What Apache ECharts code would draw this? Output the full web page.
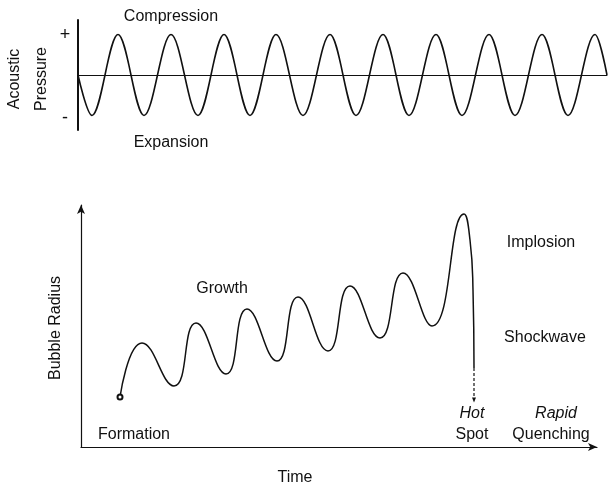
<!DOCTYPE html>
<html>
<head>
<meta charset="utf-8">
<script src="https://cdn.jsdelivr.net/npm/echarts@6/dist/echarts.min.js"></script>
<style>html,body{margin:0;padding:0;background:#fff}#c{width:609px;height:489px}</style>
</head>
<body>
<div id="c"></div>
<script>
// Top panel: acoustic pressure (time offset, pressure extrema)
var pressureTime = [0,14,40,66,93,120,146,172,198,225,252,278,305,331,358,384,411,437,464,490,517,529];
var pressure     = [0,-1,1,-1,1,-1,1,-1,1,-1,1,-1,1,-1,1,-1,1,-1,1,-1,1,0];
// Bottom panel: bubble radius
var radiusTime = [39,61,93,115,145,166,196,217,247,269,299,322,351,383,389,392,393];
var radius     = [50,104,61,124,73,138,86,150,96,161,109,174,121,233,207,157,79];
var tailTime = [393,393];
var tail     = [79,47];

var FONT = '"Liberation Sans", Arial, sans-serif';
var INK = '#111';

function pairs(xs, ys){ return xs.map(function(x,i){ return [x, ys[i]]; }); }

var bubbleData = pairs(radiusTime, radius).map(function(p,i){
  return i === 0 ? {value:p, symbol:'emptyCircle', symbolSize:5} : {value:p, symbol:'none'};
});
var tailData = pairs(tailTime, tail).map(function(p,i){
  return i === 1 ? {value:p, symbol:'triangle', symbolRotate:180, symbolSize:[4,5]} : {value:p, symbol:'none'};
});

function txt(text, x, y, opts){
  opts = opts || {};
  return {
    type:'text', x:x, y:y, rotation: opts.rotation || 0, silent:true,
    style:{ text:text, x:0, y:0, align:'center', verticalAlign:'middle',
      fill:INK, fontSize: opts.size || 16, fontFamily: FONT,
      fontStyle: opts.italic ? 'italic' : 'normal', lineHeight: opts.lh || 20 }
  };
}

var chart = echarts.init(document.getElementById('c'), null, {renderer:'canvas'});
chart.setOption({
  animation:false,
  backgroundColor:'#fff',
  grid:[
    {left:78, right:2, top:20, bottom:359},
    {left:81, right:12, top:205, bottom:42}
  ],
  xAxis:[
    {gridIndex:0, type:'value', min:0, max:529, axisLine:{show:true, onZero:true, lineStyle:{color:INK, width:1}},
      axisTick:{show:false}, axisLabel:{show:false}, splitLine:{show:false}},
    {gridIndex:1, type:'value', min:0, max:516, axisLine:{show:true, symbol:['none','arrow'], symbolSize:[6,9], lineStyle:{color:INK, width:1.2}},
      axisTick:{show:false}, axisLabel:{show:false}, splitLine:{show:false}}
  ],
  yAxis:[
    {gridIndex:0, type:'value', min:-1.36, max:1.36, axisLine:{show:true, onZero:false, lineStyle:{color:INK, width:2}},
      axisTick:{show:false}, axisLabel:{show:false}, splitLine:{show:false}},
    {gridIndex:1, type:'value', min:0, max:242, axisLine:{show:true, onZero:false, symbol:['none','arrow'], symbolSize:[6,9], lineStyle:{color:INK, width:1.2}},
      axisTick:{show:false}, axisLabel:{show:false}, splitLine:{show:false}}
  ],
  series:[
    {type:'line', xAxisIndex:0, yAxisIndex:0, data:pairs(pressureTime, pressure), showSymbol:false, symbol:'none',
      smooth:0.35, smoothMonotone:'x', lineStyle:{color:INK, width:1.6}},
    {type:'line', xAxisIndex:1, yAxisIndex:1, data:bubbleData, smooth:0.5,
      itemStyle:{color:INK, borderColor:INK, borderWidth:1.3}, lineStyle:{color:INK, width:1.5}},
    {type:'line', xAxisIndex:1, yAxisIndex:1, data:tailData,
      itemStyle:{color:INK}, lineStyle:{color:INK, width:1.2, type:[3,2]}}
  ],
  graphic:[
    txt('Compression', 171, 17),
    txt('Expansion', 171, 143),
    txt('+', 65, 35, {size:18}),
    txt('-', 65, 118, {size:18}),
    txt('Acoustic\nPressure', 28, 79, {rotation:Math.PI/2, lh:27}),
    txt('Bubble Radius', 56, 328, {rotation:Math.PI/2}),
    txt('Growth', 222, 289),
    txt('Formation', 134, 435),
    txt('Implosion', 541, 243),
    txt('Shockwave', 545, 338),
    txt('Hot', 472, 414, {italic:true}),
    txt('Spot', 472, 435),
    txt('Rapid', 556, 414, {italic:true}),
    txt('Quenching', 551, 435),
    txt('Time', 295, 478)
  ]
});
</script>
</body>
</html>
